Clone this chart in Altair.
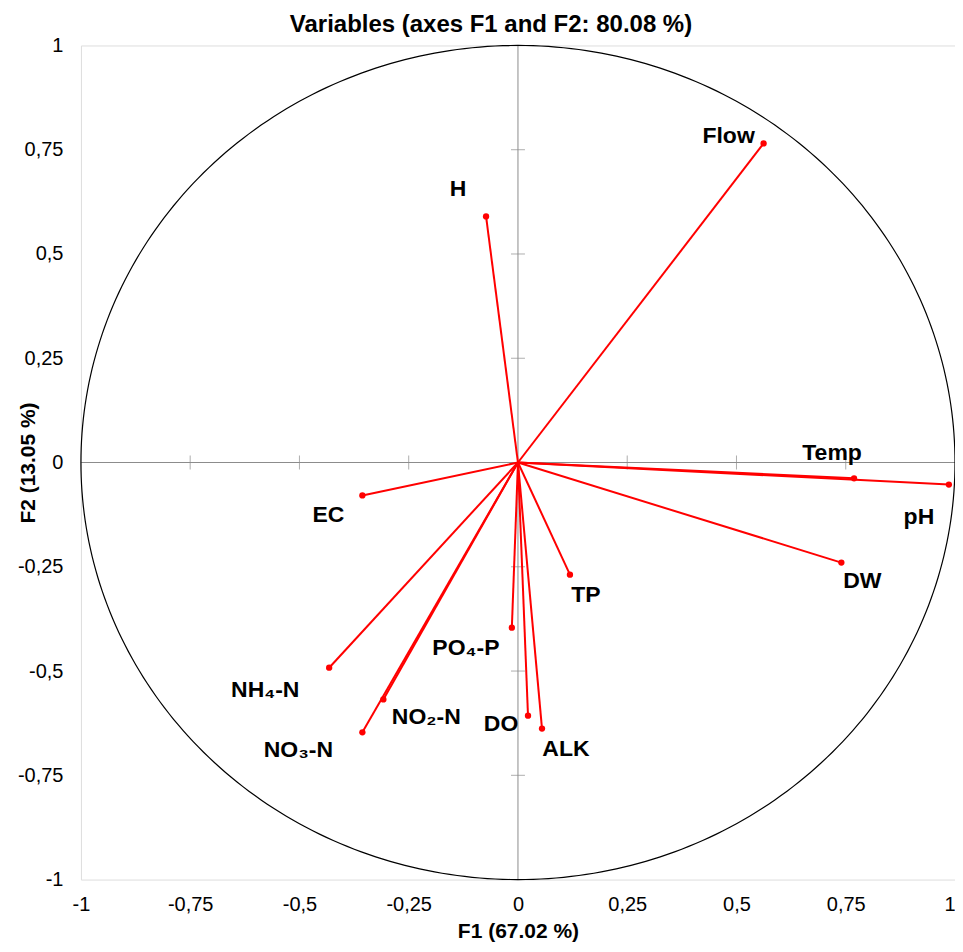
import altair as alt
import pandas as pd
import numpy as np

# ---- data ----
variables = ["Flow", "H", "Temp", "pH", "DW", "EC", "TP", "PO₄-P", "NH₄-N", "NO₂-N", "NO₃-N", "DO", "ALK"]
f1 = [0.562, -0.073, 0.769, 0.986, 0.740, -0.356, 0.119, -0.014, -0.432, -0.308, -0.356, 0.023, 0.055]
f2 = [0.765, 0.590, -0.038, -0.053, -0.240, -0.079, -0.269, -0.396, -0.492, -0.568, -0.647, -0.607, -0.638]
tick_values = [-1, -0.75, -0.5, -0.25, 0, 0.25, 0.5, 0.75, 1]
inner_ticks = [-0.75, -0.5, -0.25, 0.25, 0.5, 0.75]

# label offsets in pixels (style)
label_offsets = {
    "Flow": (-35, -7), "H": (-28, -27), "Temp": (-22, -25), "pH": (-30, 32),
    "DW": (21, 18), "EC": (-34, 20), "TP": (16, 20), "PO₄-P": (-46, 20),
    "NH₄-N": (-64, 22), "NO₂-N": (43, 18), "NO₃-N": (-64, 18), "DO": (-27, 8),
    "ALK": (24, 20),
}

FONT = "Liberation Sans"
RED = "#ff0000"
GREY = "#8c8c8c"

xs = alt.Scale(domain=[-1, 1], nice=False, zero=False)
ys = alt.Scale(domain=[-1, 1], nice=False, zero=False)
label_expr = "replace(toString(datum.value), '.', ',')"

x_axis = alt.Axis(
    values=tick_values, labelExpr=label_expr, title="F1 (67.02 %)",
    grid=False, domain=False, ticks=False, tickSize=0, labelPadding=15,
    labelFont=FONT, labelFontSize=20, labelColor="black",
    labelAlign={"condition": {"test": "datum.value == 1", "value": "right"}, "value": "center"},
    titleFont=FONT, titleFontSize=21, titleFontWeight="bold", titleColor="black",
    titleY=41, labelFlush=False)
y_axis = alt.Axis(
    values=tick_values, labelExpr=label_expr, title="F2 (13.05 %)",
    grid=False, domain=False, ticks=False, tickSize=0, labelPadding=18,
    labelFont=FONT, labelFontSize=20, labelColor="black",
    titleFont=FONT, titleFontSize=21, titleFontWeight="bold", titleColor="black",
    titleX=-42, labelFlush=False)


def X(f="x:Q"):
    return alt.X(f, scale=xs, axis=x_axis)


def Y(f="y:Q"):
    return alt.Y(f, scale=ys, axis=y_axis)


vec = pd.DataFrame({"var": variables, "x": f1, "y": f2, "x0": 0.0, "y0": 0.0})

# correlation circle (unit circle)
t = np.linspace(0, 2 * np.pi, 361)
circle = pd.DataFrame({"x": np.cos(t), "y": np.sin(t), "o": np.arange(361)})

cross = pd.DataFrame({"x": [-1, 0], "y": [0, -1], "x2": [1, 0], "y2": [0, 1]})
xticks = pd.DataFrame({"x": inner_ticks, "y": [0.0] * len(inner_ticks)})
yticks = pd.DataFrame({"x": [0.0] * len(inner_ticks), "y": inner_ticks})

circle_layer = alt.Chart(circle).mark_line(color="black", strokeWidth=1.2).encode(
    x=X(), y=Y(), order="o:Q",
)
cross_layer = alt.Chart(cross).mark_rule(color=GREY, strokeWidth=1).encode(
    x=X(), y=Y(), x2="x2:Q", y2="y2:Q",
)
xtick_layer = alt.Chart(xticks).mark_tick(orient="vertical", size=14, thickness=1, color=GREY).encode(
    x=X(), y=Y(),
)
ytick_layer = alt.Chart(yticks).mark_tick(orient="horizontal", size=14, thickness=1, color=GREY).encode(
    x=X(), y=Y(),
)
vec_layer = alt.Chart(vec).mark_rule(color=RED, strokeWidth=2).encode(
    x=X(), y=Y(), x2="x0:Q", y2="y0:Q",
)
pt_layer = alt.Chart(vec).mark_point(filled=True, color=RED, size=40, opacity=1).encode(
    x=X(), y=Y(),
)

label_layers = []
for v in variables:
    dx, dy = label_offsets[v]
    label_layers.append(
        alt.Chart(vec[vec["var"] == v]).mark_text(
            font=FONT, fontSize=23, fontWeight="bold", color="black",
            dx=dx, dy=dy, align="center", baseline="middle",
        ).encode(x=X(), y=Y(), text="var:N")
    )

chart = alt.layer(
    cross_layer, xtick_layer, ytick_layer, circle_layer, vec_layer, pt_layer, *label_layers
).properties(
    width=875, height=835,
    title=alt.TitleParams("Variables (axes F1 and F2: 80.08 %)", font=FONT, fontSize=24,
                          fontWeight="bold", color="black", anchor="middle", offset=8,
                          dx=-27, dy=10),
    autosize=alt.AutoSizeParams(type="none"),
    padding={"left": 73, "top": 37, "right": 0, "bottom": 64},
).configure_view(
    stroke=GREY, strokeWidth=2
).configure(background="white")

chart.save("out.html", embed_options={"renderer": "svg", "actions": False})
